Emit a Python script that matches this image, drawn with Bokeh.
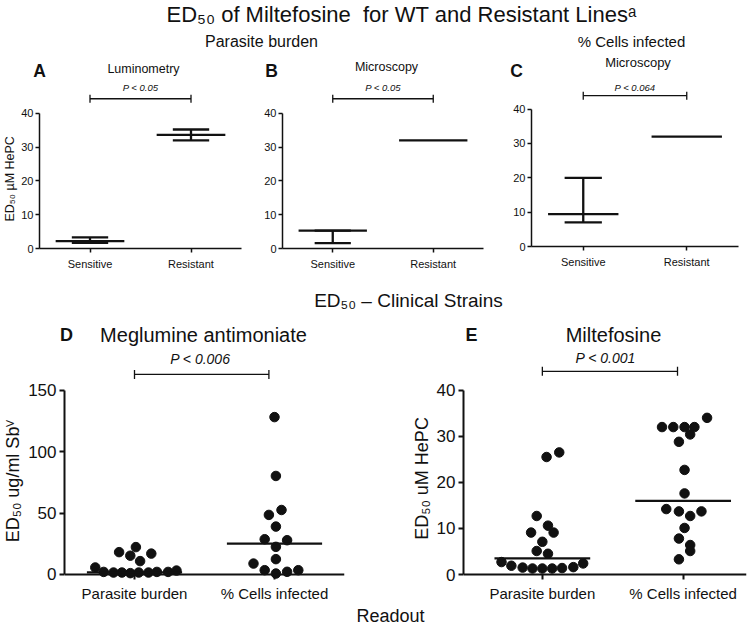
import numpy as np
from bokeh.plotting import figure
from bokeh.models import Range1d, FixedTicker, Span
from bokeh.layouts import column, row
from bokeh.core.properties import value
from bokeh.embed import file_html
from bokeh.resources import INLINE

FONT = "Liberation Sans"
INK = "#111111"
NB = "\u00a0"

# ---------------- data ----------------
line_categories = ["Sensitive", "Resistant"]
lum_median = [2.2, 33.6]
lum_low = [1.7, 32.0]
lum_high = [3.3, 35.2]
mic_median = [5.3, 32.0]
mic_low = [1.6, 32.0]
mic_high = [5.3, 32.0]
cells_median = [9.4, 32.0]
cells_low = [7.0, 32.0]
cells_high = [20.0, 32.0]
line_ticks = [0, 10, 20, 30, 40]

clinical_categories = ["Parasite burden", "% Cells infected"]
sb_burden = [5.7, 2.1, 1.6, 1.6, 1.1, 1.6, 1.6, 2.1, 2.1, 3.2, 18.2, 22.3, 15.3, 10.9, 17.0]
sb_burden_jitter = [-0.28, -0.22, -0.15, -0.09, -0.03, 0.03, 0.10, 0.16, 0.24, 0.30,
                    -0.11, 0.01, -0.03, 0.04, 0.12]
sb_cells = [128.1, 80.2, 48.5, 52.5, 39.0, 28.7, 27.9, 22.5, 12.5, 8.9, 3.5, 0.8, 2.2, 3.5]
sb_cells_jitter = [0.00, 0.01, -0.04, 0.05, 0.01, -0.07, 0.09, 0.01, 0.01, -0.15,
                   -0.07, 0.01, 0.09, 0.17]
sb_medians = [1.8, 25.2]
sb_ticks = [0, 50, 100, 150]

mf_burden = [2.7, 1.9, 1.5, 1.3, 1.3, 1.3, 1.4, 1.6, 2.4, 9.1, 9.1, 10.6, 7.1, 5.1, 4.5,
             25.5, 26.5, 12.7]
mf_burden_jitter = [-0.29, -0.22, -0.14, -0.07, 0.0, 0.07, 0.14, 0.22, 0.29, -0.08, 0.08,
                    0.04, 0.0, -0.04, 0.04, 0.03, 0.12, -0.04]
mf_cells = [32.0, 32.0, 32.0, 32.0, 34.0, 30.4, 28.8, 22.7, 17.6, 14.2, 13.7, 12.7, 13.7,
            10.1, 7.8, 6.4, 5.1, 3.3]
mf_cells_jitter = [-0.15, -0.07, 0.01, 0.08, 0.17, 0.05, -0.03, 0.01, 0.01, -0.12, -0.03,
                   0.05, 0.13, 0.01, -0.03, 0.05, 0.05, -0.03]
mf_medians = [3.5, 16.0]
mf_ticks = [0, 10, 20, 30, 40]


def text_fig(width, height, y_top, y_bottom):
    p = figure(width=width, height=height, x_range=Range1d(0, width),
               y_range=Range1d(y_bottom, y_top), toolbar_location=None,
               output_backend="svg", x_axis_location=None, y_axis_location=None,
               min_border=0)
    p.grid.visible = False
    p.outline_line_color = None
    return p


def put(p, x, y, txt, size, style="normal", align="center"):
    p.text(x=[x], y=[y], text=[txt], text_font=value(FONT), text_font_size=size,
           text_font_style=style, text_align=align, text_baseline="middle", text_color=INK)


def style_axes(p, tick_font, label_font):
    p.grid.visible = False
    p.outline_line_color = None
    for ax in p.axis:
        ax.major_label_text_font = FONT
        ax.major_label_text_font_size = tick_font
        ax.major_label_text_color = INK
        ax.axis_label_text_font = FONT
        ax.axis_label_text_font_size = label_font
        ax.axis_label_text_font_style = "normal"
        ax.axis_label_text_color = INK
        ax.minor_tick_line_color = None
        ax.axis_line_color = INK
        ax.major_tick_line_color = INK


def line_panel(medians, lows, highs, p_text, fw, fh, y_end, p_y, br_y,
               left, right, bottom, ylabel=None):
    p = figure(frame_width=fw, frame_height=fh, x_range=Range1d(0.5, 2.5),
               y_range=Range1d(0, y_end), toolbar_location=None, output_backend="svg",
               min_border_left=left, min_border_right=right, min_border_top=0,
               min_border_bottom=bottom)
    xs = [1, 2]
    hw, cw = 0.34, 0.18
    p.segment(x0=[x - hw for x in xs], x1=[x + hw for x in xs], y0=medians, y1=medians,
              line_width=2.3, line_color=INK)
    rx = [x for x, lo, hi in zip(xs, lows, highs) if hi > lo]
    rl = [lo for lo, hi in zip(lows, highs) if hi > lo]
    rh = [hi for lo, hi in zip(lows, highs) if hi > lo]
    p.segment(x0=rx, x1=rx, y0=rl, y1=rh, line_width=2.3, line_color=INK)
    p.segment(x0=[x - cw for x in rx], x1=[x + cw for x in rx], y0=rl, y1=rl,
              line_width=2.3, line_color=INK)
    p.segment(x0=[x - cw for x in rx], x1=[x + cw for x in rx], y0=rh, y1=rh,
              line_width=2.3, line_color=INK)
    # significance bracket
    p.segment(x0=[1], x1=[2], y0=[br_y], y1=[br_y], line_width=1.3, line_color=INK)
    p.scatter(x=[1, 2], y=[br_y, br_y], marker="dash", angle=np.pi / 2, size=8,
              line_width=1.3, line_color=INK)
    put(p, 1.5, p_y, p_text, "9.5px", style="italic")
    p.yaxis.ticker = FixedTicker(ticks=line_ticks)
    p.yaxis.bounds = (0, 40)
    p.xaxis.ticker = FixedTicker(ticks=[1, 2])
    p.xaxis.major_label_overrides = {1: line_categories[0], 2: line_categories[1]}
    style_axes(p, "11px", "12.5px")
    for ax in p.axis:
        ax.axis_line_width = 1.5
        ax.major_tick_line_width = 1.5
        ax.major_tick_out = 4
        ax.major_tick_in = 0
        ax.major_label_standoff = 2
        ax.axis_label_standoff = 1
    p.xaxis.major_label_standoff = 5
    if ylabel:
        p.yaxis.axis_label = ylabel
    return p


def clinical_panel(burden, bj, cells, cj, medians, ticks, yr, xr, fw, left, right,
                   p_text, p_x, p_y, br_y, ylabel):
    p = figure(frame_width=fw, frame_height=232, x_range=Range1d(*xr), y_range=Range1d(*yr),
               toolbar_location=None, output_backend="svg", min_border_left=left,
               min_border_right=right, min_border_top=0, min_border_bottom=23)
    p.scatter(x=[1 + j for j in bj], y=burden, size=9.5, color=INK)
    p.scatter(x=[2 + j for j in cj], y=cells, size=9.5, color=INK)
    p.segment(x0=[1 - 0.34, 2 - 0.34], x1=[1 + 0.34, 2 + 0.34], y0=medians, y1=medians,
              line_width=2.2, line_color=INK)
    p.add_layout(Span(location=0, dimension="width", line_width=2, line_color=INK))
    p.segment(x0=[1], x1=[1.96], y0=[br_y], y1=[br_y], line_width=1.3, line_color=INK)
    p.scatter(x=[1, 1.96], y=[br_y, br_y], marker="dash", angle=np.pi / 2, size=9,
              line_width=1.3, line_color=INK)
    put(p, p_x, p_y, p_text, "14px", style="italic")
    p.yaxis.ticker = FixedTicker(ticks=ticks)
    p.yaxis.bounds = (ticks[0], ticks[-1])
    p.xaxis.ticker = FixedTicker(ticks=[1, 2])
    p.xaxis.major_label_overrides = {1: clinical_categories[0], 2: clinical_categories[1]}
    style_axes(p, "17px", "18px")
    p.xaxis.major_label_text_font_size = "15px"
    p.xaxis.axis_line_color = None
    p.xaxis.major_tick_in = 5
    p.xaxis.major_tick_out = 0
    p.xaxis.major_tick_line_width = 2
    p.xaxis.major_label_standoff = 5
    p.yaxis.axis_line_width = 2
    p.yaxis.major_tick_line_width = 2
    p.yaxis.major_tick_out = 5
    p.yaxis.major_tick_in = 0
    p.yaxis.major_label_standoff = 3
    p.yaxis.axis_label_standoff = 2
    p.yaxis.axis_label = ylabel
    return p


# ---------------- header 1 (page y 0-81) ----------------
h1 = text_fig(748, 81, 0, 81)
put(h1, 401, 14, "ED\u2085\u2080 of Miltefosine \u00a0for WT and Resistant Lines\u1d43", "22px")
put(h1, 261, 41, "Parasite burden", "16px")
put(h1, 631, 40.5, "% Cells infected", "15px")
put(h1, 39, 70, "A", "17.5px", style="bold")
put(h1, 271, 70, "B", "17.5px", style="bold")
put(h1, 516, 70, "C", "17.5px", style="bold")
put(h1, 143, 68, "Luminometry", "12.5px")
put(h1, 386, 66.5, "Microscopy", "12.5px")
put(h1, 637.5, 62, "Microscopy", "13px")

# ---------------- panels A-C (page y 81-282) ----------------
# trailing no-break spaces centre the axis title on the 0-40 axis rather than the frame
pa = line_panel(lum_median, lum_low, lum_high, "P < 0.05", 202, 167, 167 / 3.38,
                47.5, 44.3, 38, 18, 34, ylabel="ED\u2085\u2080 \u00b5M HePC" + NB * 8)
pb = line_panel(mic_median, mic_low, mic_high, "P < 0.05", 201, 167, 167 / 3.38,
                47.5, 44.3, 23, 18, 34)
pc = line_panel(cells_median, cells_low, cells_high, "P < 0.064", 207, 165, 165 / 3.435,
                46.2, 43.9, 30, 11, 36)

# ---------------- header 2 (page y 282-347) ----------------
h2 = text_fig(748, 65, 282, 347)
put(h2, 408, 300, "ED\u2085\u2080 \u2013 Clinical Strains", "19px")
put(h2, 66, 334, "D", "18px", style="bold")
put(h2, 203, 334, "Meglumine antimoniate", "20px")
put(h2, 471, 334, "E", "18px", style="bold")
put(h2, 613, 334, "Miltefosine", "20px")

# ---------------- panels D-E (page y 347-602) ----------------
pd = clinical_panel(sb_burden, sb_burden_jitter, sb_cells, sb_cells_jitter, sb_medians,
                    sb_ticks, (-4.07, 184.75), (0.5, 2.5), 280, 63, 37,
                    "P < 0.006", 1.47, 175.2, 162.8,
                    "ED\u2085\u2080 ug/ml Sb\u2c7d" + NB * 7)
pe = clinical_panel(mf_burden, mf_burden_jitter, mf_cells, mf_cells_jitter, mf_medians,
                    mf_ticks, (-1.085, 49.27), (0.44, 2.45), 283, 82, 3,
                    "P < 0.001", 1.45, 46.9, 44.1, "ED\u2085\u2080 uM HePC" + NB * 6)

# ---------------- footer (page y 602-624) ----------------
ft = text_fig(748, 22, 602, 624)
put(ft, 390, 613, "Readout", "18px")

layout = column(h1, row(pa, pb, pc), h2, row(pd, pe), ft)
open("out.html", "w").write(file_html(layout, INLINE))
